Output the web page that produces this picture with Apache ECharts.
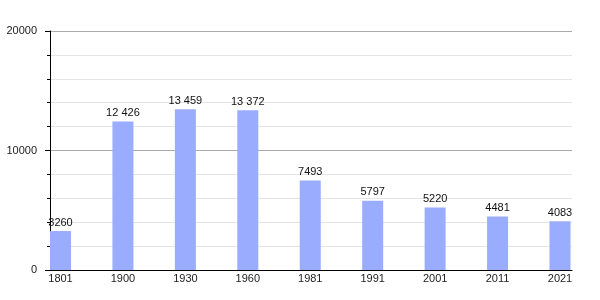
<!DOCTYPE html>
<html><head><meta charset="utf-8">
<script src="https://cdn.jsdelivr.net/npm/echarts@6/dist/echarts.min.js"></script>
<style>html,body{margin:0;padding:0;background:#fff}#c{width:600px;height:300px}</style>
</head><body><div id="c"></div>
<script>
const years = ["1801","1900","1930","1960","1981","1991","2001","2011","2021"];
const population = [3260, 12426, 13459, 13372, 7493, 5797, 5220, 4481, 4083];
const valueLabels = ["3260","12 426","13 459","13 372","7493","5797","5220","4481","4083"];
const yTicks = [0, 10000, 20000];

const chart = echarts.init(document.getElementById('c'), null, {renderer:'canvas'});
const font = 'Liberation Sans, Arial, sans-serif';
chart.setOption({
  animation:false,
  grid:[
    {left:50, right:28, top:31, bottom:30},
    {left:60.5, right:40, top:31, bottom:30}
  ],
  xAxis:[
    {gridIndex:0, type:'value', min:0, max:1, axisLabel:{show:false}, axisTick:{show:false},
     splitLine:{show:false}, axisLine:{show:true, lineStyle:{color:'#000', width:1}}},
    {gridIndex:1, type:'category', data:years, boundaryGap:false,
     axisLine:{show:false}, axisTick:{show:false},
     axisLabel:{color:'#222', fontFamily:font, fontSize:11, margin:3, interval:0}}
  ],
  yAxis:[
    {gridIndex:0, type:'value', min:yTicks[0], max:yTicks[yTicks.length-1], interval:10000,
     axisLine:{show:true, lineStyle:{color:'#000'}},
     axisTick:{show:true, length:5, lineStyle:{color:'#000'}},
     minorTick:{show:true, splitNumber:5, length:3, lineStyle:{color:'#000'}},
     splitLine:{show:true, lineStyle:{color:'#aaa'}},
     minorSplitLine:{show:true, lineStyle:{color:'#e4e4e4'}},
     axisLabel:{color:'#222', fontFamily:font, fontSize:11, margin:13, formatter:v=>String(v)}},
    {gridIndex:1, type:'value', min:0, max:20000, show:false}
  ],
  series:[{
    type:'bar', xAxisIndex:1, yAxisIndex:1, data:population, barWidth:21,
    itemStyle:{color:'#9aacfd'},
    label:{show:true, position:'top', distance:3, color:'#111', fontFamily:font, fontSize:11,
      formatter:p=>valueLabels[p.dataIndex]}
  }]
});
</script></body></html>
